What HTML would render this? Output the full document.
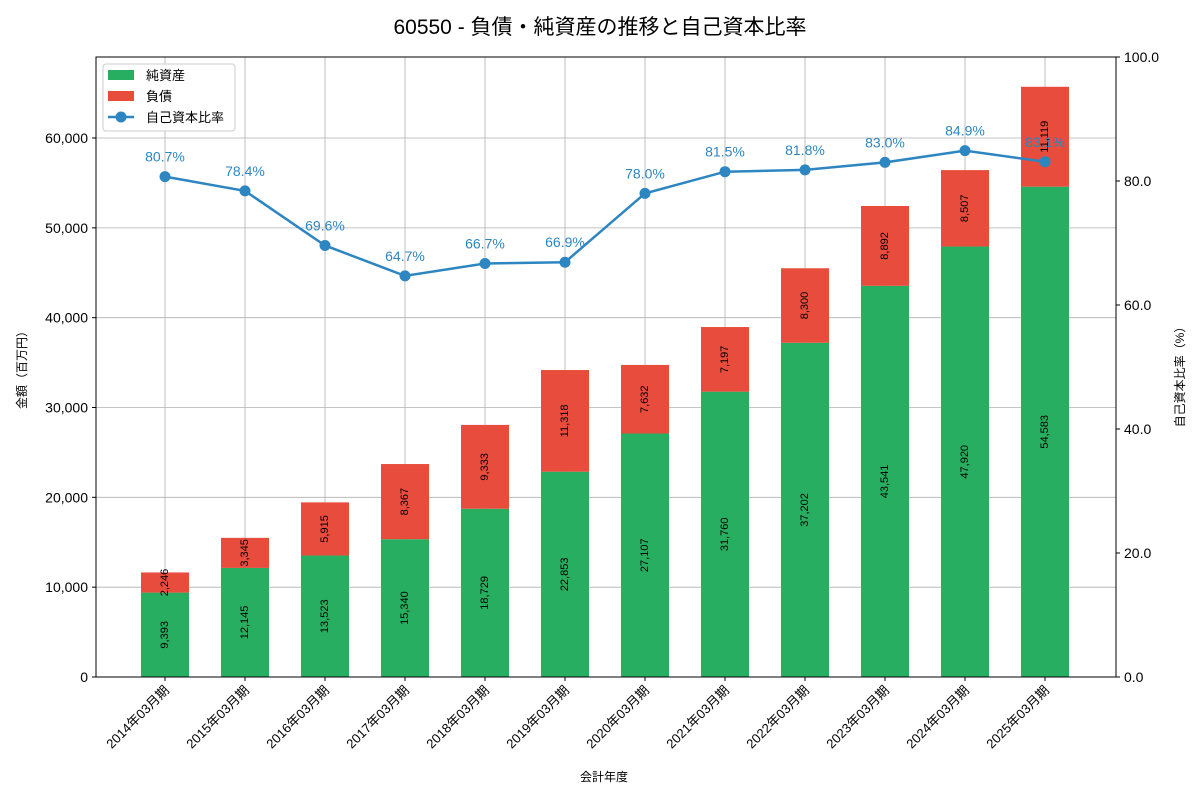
<!DOCTYPE html>
<html><head><meta charset="utf-8"><style>
body{margin:0;background:#fff}
svg{display:block;font-family:"Liberation Sans","Noto Sans CJK JP",sans-serif}
</style></head><body>
<svg id="c" width="1200" height="800"></svg>
<script>
const categories=["2014年03月期","2015年03月期","2016年03月期","2017年03月期","2018年03月期","2019年03月期","2020年03月期","2021年03月期","2022年03月期","2023年03月期","2024年03月期","2025年03月期"];
const equity=[9393,12145,13523,15340,18729,22853,27107,31760,37202,43541,47920,54583];
const liabilities=[2246,3345,5915,8367,9333,11318,7632,7197,8300,8892,8507,11119];
const ratio=[80.7,78.4,69.6,64.7,66.7,66.9,78.0,81.5,81.8,83.0,84.9,83.1];
const yTicks=[0,10000,20000,30000,40000,50000,60000];
const rTicks=[0,20,40,60,80,100];
const NS="http://www.w3.org/2000/svg";
const svg=document.getElementById('c');
const L=96,R=1116,T=57,B=677;
const x=i=>165+i*80;
const y=v=>B-v*(B-T)/69018;
const yr=v=>B-v*(B-T)/100;
function el(t,a,p){const e=document.createElementNS(NS,t);for(const k in a)e.setAttribute(k,a[k]);(p||svg).appendChild(e);return e;}
function tx(s,a){const e=el('text',a);e.textContent=s;return e;}
const fmt=v=>v.toLocaleString('en-US');
// grid
const g=el('g',{});

yTicks.forEach(v=>{el('line',{x1:L,x2:R,y1:y(v),y2:y(v),stroke:'#b0b0b0','stroke-width':0.8},g);});
categories.forEach((c,i)=>{el('line',{x1:x(i),x2:x(i),y1:T,y2:B,stroke:'#b0b0b0','stroke-width':0.8},g);});
// bars
categories.forEach((c,i)=>{
 const b1=el('rect',{x:x(i)-24,width:48,y:y(equity[i]),height:B-y(equity[i]),fill:'#27ae60'});
 
 const top=equity[i]+liabilities[i];
 const b2=el('rect',{x:x(i)-24,width:48,y:y(top),height:y(equity[i])-y(top),fill:'#e74c3c'});
 
});
// line
const pts=ratio.map((r,i)=>x(i)+','+yr(r)).join(' ');
const pl=el('polyline',{points:pts,fill:'none',stroke:'#2e86c1','stroke-width':2.5});

ratio.forEach((r,i)=>{
 const c=el('circle',{cx:x(i),cy:yr(r),r:5.5,fill:'#2e86c1'});
 
 const t=tx(r.toFixed(1)+'%',{x:x(i),y:yr(r)-15,'text-anchor':'middle','font-size':14,fill:'#2e86c1'});
 
});
// bar value labels
categories.forEach((c,i)=>{
 const m1=y(equity[i]/2), m2=y(equity[i]+liabilities[i]/2);
 const t1=tx(fmt(equity[i]),{x:0,y:0,'text-anchor':'middle','dominant-baseline':'central','font-size':11,transform:`translate(${x(i)},${m1}) rotate(-90)`});
 
 const t2=tx(fmt(liabilities[i]),{x:0,y:0,'text-anchor':'middle','dominant-baseline':'central','font-size':11,transform:`translate(${x(i)},${m2}) rotate(-90)`});
 
});
// axes frame
el('rect',{x:L,y:T,width:R-L,height:B-T,fill:'none',stroke:'#000','stroke-width':1});
yTicks.forEach(v=>{el('line',{x1:L-4,x2:L,y1:y(v),y2:y(v),stroke:'#000'});
 const t=tx(fmt(v),{x:L-8,y:y(v)+5,'text-anchor':'end','font-size':14});});
rTicks.forEach(v=>{el('line',{x1:R,x2:R+4,y1:yr(v),y2:yr(v),stroke:'#000'});
 const t=tx(v.toFixed(1),{x:R+8,y:yr(v)+5,'font-size':14});});
categories.forEach((c,i)=>{el('line',{x1:x(i),x2:x(i),y1:B,y2:B+4,stroke:'#000'});
 const t=tx(c,{x:0,y:0,'text-anchor':'end','font-size':13,transform:`translate(${x(i)+5},${B+14}) rotate(-45)`});
 });
// titles
let t=tx('60550 - 負債・純資産の推移と自己資本比率',{x:600,y:34,'text-anchor':'middle','font-size':21});
t=tx('会計年度',{x:604,y:781,'text-anchor':'middle','font-size':12});
t=tx('金額（百万円）',{x:0,y:0,'text-anchor':'middle','font-size':12,transform:'translate(26,367) rotate(-90)'});
t=tx('自己資本比率（%）',{x:0,y:0,'text-anchor':'middle','font-size':12,transform:'translate(1184,374) rotate(-90)'});
// legend
const lg=el('g',{});
el('rect',{x:103,y:64,width:132,height:67,fill:'#fff','fill-opacity':0.85,stroke:'#ccc',rx:3},lg);
el('rect',{x:108,y:70,width:26,height:10,fill:'#27ae60'},lg);
let lt=tx('純資産',{x:146,y:80,'font-size':13});lg.appendChild(lt);
el('rect',{x:108,y:91,width:26,height:10,fill:'#e74c3c'},lg);
lt=tx('負債',{x:146,y:101,'font-size':13});lg.appendChild(lt);
el('line',{x1:108,x2:134,y1:117,y2:117,stroke:'#2e86c1','stroke-width':2.5},lg);
el('circle',{cx:121,cy:117,r:5.5,fill:'#2e86c1'},lg);
lt=tx('自己資本比率',{x:146,y:122,'font-size':13});lg.appendChild(lt);
</script>
</body></html>
